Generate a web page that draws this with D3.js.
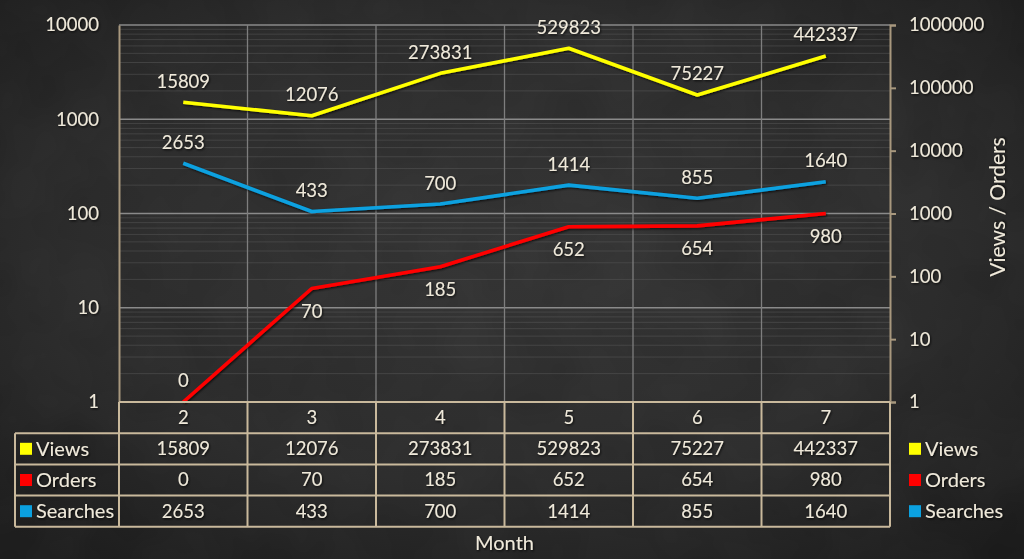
<!DOCTYPE html>
<html>
<head>
<meta charset="utf-8">
<script src="https://cdn.jsdelivr.net/npm/d3@7"></script>
<style>
  html, body { margin: 0; padding: 0; background: #262626; }
  svg { display: block; }
</style>
</head>
<body>
<script>
// table values (what the chart prints)
const months = ['2', '3', '4', '5', '6', '7'];
const views = [15809, 12076, 273831, 529823, 75227, 442337];
const orders = [0, 70, 185, 652, 654, 980];
const searches = [2653, 433, 700, 1414, 855, 1640];

// where the lines actually sit in the picture
const viewsLine = [58900, 36000, 170000, 427000, 77000, 321000];   // right axis
const ordersLine = [1, 64, 142, 617, 635, 1000];                    // right axis
const searchesLine = [341, 105, 126, 200, 145, 217];                // left axis

const leftTicks = [1, 10, 100, 1000, 10000];
const rightTicks = [1, 10, 100, 1000, 10000, 100000, 1000000];

const W = 1024, H = 559;
const plot = { left: 119, right: 890, top: 25, bottom: 402 };
const rowH = 31.2;
const font = 'Lato, "Open Sans", sans-serif';
const numSize = 18.5;   // digits
const wordSize = 20;    // words
const ink = '#efe9da';
const tan = '#c9b99c';

const series = [
  { name: 'Views', color: '#ffff00', table: views, line: viewsLine, axis: 'right' },
  { name: 'Orders', color: '#ff0000', table: orders, line: ordersLine, axis: 'right' },
  { name: 'Searches', color: '#0ba1e0', table: searches, line: searchesLine, axis: 'left' }
];

const svg = d3.select('body').append('svg')
  .attr('width', W)
  .attr('height', H)
  .attr('viewBox', `0 0 ${W} ${H}`);

const defs = svg.append('defs');
const bg = defs.append('radialGradient').attr('id', 'board')
  .attr('cx', '50%').attr('cy', '45%').attr('r', '70%');
bg.append('stop').attr('offset', '0%').attr('stop-color', '#323232');
bg.append('stop').attr('offset', '60%').attr('stop-color', '#2a2a2a');
bg.append('stop').attr('offset', '100%').attr('stop-color', '#1b1b1b');

const chalk = defs.append('filter').attr('id', 'chalk')
  .attr('x', 0).attr('y', 0).attr('width', '100%').attr('height', '100%');
chalk.append('feTurbulence').attr('type', 'fractalNoise')
  .attr('baseFrequency', 0.012).attr('numOctaves', 3).attr('seed', 7);
chalk.append('feColorMatrix').attr('type', 'matrix')
  .attr('values', '0 0 0 0 1  0 0 0 0 1  0 0 0 0 1  0.05 0 0 0 -0.01');

const shadow = defs.append('filter').attr('id', 'shadow')
  .attr('x', '-10%').attr('y', '-20%').attr('width', '130%').attr('height', '150%');
shadow.append('feDropShadow').attr('dx', 1).attr('dy', 1.2)
  .attr('stdDeviation', 0.9).attr('flood-color', '#000').attr('flood-opacity', 0.75);

svg.append('rect').attr('width', W).attr('height', H).attr('fill', 'url(#board)');
svg.append('rect').attr('width', W).attr('height', H).attr('filter', 'url(#chalk)');

// scales
const x = d3.scaleBand().domain(months).range([plot.left, plot.right]);
const yLeft = d3.scaleLog().domain([1, 10000]).range([plot.bottom, plot.top]);
const yRight = d3.scaleLog().domain([1, 1000000]).range([plot.bottom, plot.top]);
const cx = d => x(d) + x.bandwidth() / 2;

// gridlines: faint minor, brighter majors
const minor = [];
for (let dec = 1; dec < 10000; dec *= 10) {
  for (let k = 2; k <= 9; k++) minor.push(dec * k);
}
const grid = svg.append('g');
grid.selectAll('.minor').data(minor).enter().append('line')
  .attr('x1', plot.left).attr('x2', plot.right)
  .attr('y1', d => yLeft(d)).attr('y2', d => yLeft(d))
  .attr('stroke', '#5a5a5a').attr('stroke-opacity', 0.5).attr('stroke-width', 1);
grid.selectAll('.major').data(leftTicks.slice(1)).enter().append('line')
  .attr('x1', plot.left).attr('x2', plot.right)
  .attr('y1', d => yLeft(d)).attr('y2', d => yLeft(d))
  .attr('stroke', '#8a8a8a').attr('stroke-width', 1.3);
grid.selectAll('.vline').data(months.slice(1)).enter().append('line')
  .attr('x1', d => x(d)).attr('x2', d => x(d))
  .attr('y1', plot.top).attr('y2', plot.bottom)
  .attr('stroke', '#7e7e7e').attr('stroke-width', 1.3);

// axes
const leftAxis = svg.append('g')
  .attr('transform', `translate(${plot.left},0)`)
  .call(d3.axisLeft(yLeft).tickValues(leftTicks).tickFormat(d3.format('d'))
    .tickSize(0).tickPadding(20));
leftAxis.select('.domain').attr('stroke', '#a8987e').attr('stroke-width', 2);

const rightAxis = svg.append('g')
  .attr('transform', `translate(${plot.right},0)`)
  .call(d3.axisRight(yRight).tickValues(rightTicks).tickFormat(d3.format('d'))
    .tickSize(6).tickPadding(13));
rightAxis.select('.domain').attr('stroke', '#a8987e').attr('stroke-width', 2);
rightAxis.selectAll('.tick line').attr('stroke', '#a8987e').attr('stroke-width', 2);

svg.selectAll('.tick text')
  .attr('fill', ink)
  .attr('font-family', font)
  .attr('font-size', numSize)
  .attr('filter', 'url(#shadow)');

// lines
const lines = svg.append('g');
series.forEach(s => {
  const y = s.axis === 'left' ? yLeft : yRight;
  const gen = d3.line().x((d, i) => cx(months[i])).y(d => y(d));
  lines.append('path')
    .datum(s.line)
    .attr('d', gen)
    .attr('fill', 'none')
    .attr('stroke', s.color)
    .attr('stroke-width', 3.6)
    .attr('stroke-linejoin', 'round')
    .attr('filter', 'url(#shadow)');
});

// data labels
const labels = svg.append('g')
  .attr('font-family', font)
  .attr('font-size', numSize)
  .attr('fill', ink)
  .attr('text-anchor', 'middle')
  .attr('filter', 'url(#shadow)');
series.forEach(s => {
  const y = s.axis === 'left' ? yLeft : yRight;
  labels.selectAll(null).data(s.table).enter().append('text')
    .attr('x', (d, i) => cx(months[i]))
    .attr('y', (d, i) => {
      const py = y(s.line[i]);
      // Orders labels hang below the line, except where it sits on the floor
      if (s.name === 'Orders' && py < plot.bottom - 2) return py + 23;
      return py - 21;
    })
    .attr('dy', '0.35em')
    .text(d => d);
});

// data table
const table = svg.append('g')
  .attr('font-family', font)
  .attr('fill', ink);
const rowTop = i => plot.bottom + i * rowH;
const tableLeft = 15;

// header row with month numbers
table.selectAll('.month').data(months).enter().append('text')
  .attr('x', d => cx(d))
  .attr('y', rowTop(0) + rowH / 2)
  .attr('dy', '0.35em')
  .attr('text-anchor', 'middle')
  .attr('font-size', numSize)
  .attr('filter', 'url(#shadow)')
  .text(d => d);

series.forEach((s, r) => {
  const mid = rowTop(r + 1) + rowH / 2;
  table.selectAll(null).data(s.table).enter().append('text')
    .attr('x', (d, i) => cx(months[i]))
    .attr('y', mid)
    .attr('dy', '0.35em')
    .attr('text-anchor', 'middle')
    .attr('font-size', numSize)
    .attr('filter', 'url(#shadow)')
    .text(d => d);
  table.append('rect')
    .attr('x', 20).attr('y', mid - 6).attr('width', 12).attr('height', 12)
    .attr('fill', s.color);
  table.append('text')
    .attr('x', 36).attr('y', mid).attr('dy', '0.35em')
    .attr('font-size', wordSize)
    .attr('filter', 'url(#shadow)')
    .text(s.name);
});

// table borders
const border = table.append('g')
  .attr('stroke', tan).attr('stroke-width', 2).attr('fill', 'none');
const bottomY = rowTop(4);
[0, 1, 2, 3, 4].forEach(r => {
  border.append('line')
    .attr('x1', r === 0 ? plot.left : tableLeft).attr('x2', plot.right)
    .attr('y1', rowTop(r)).attr('y2', rowTop(r));
});
months.concat(['end']).forEach(m => {
  const xx = m === 'end' ? plot.right : x(m);
  border.append('line')
    .attr('x1', xx).attr('x2', xx)
    .attr('y1', rowTop(0)).attr('y2', bottomY);
});
border.append('line')
  .attr('x1', tableLeft).attr('x2', tableLeft)
  .attr('y1', rowTop(1)).attr('y2', bottomY);

// legend on the right
const legend = svg.append('g')
  .attr('font-family', font)
  .attr('font-size', wordSize)
  .attr('fill', ink);
series.forEach((s, r) => {
  const mid = rowTop(r + 1) + rowH / 2;
  legend.append('rect')
    .attr('x', 909).attr('y', mid - 6).attr('width', 12).attr('height', 12)
    .attr('fill', s.color);
  legend.append('text')
    .attr('x', 925).attr('y', mid).attr('dy', '0.35em')
    .attr('filter', 'url(#shadow)')
    .text(s.name);
});

// axis titles
svg.append('text')
  .attr('x', (plot.left + plot.right) / 2)
  .attr('y', 543)
  .attr('dy', '0.35em')
  .attr('text-anchor', 'middle')
  .attr('font-family', font)
  .attr('font-size', wordSize)
  .attr('fill', ink)
  .attr('filter', 'url(#shadow)')
  .text('Month');

svg.append('text')
  .attr('transform', 'translate(998,207) rotate(-90)')
  .attr('dy', '0.35em')
  .attr('text-anchor', 'middle')
  .attr('font-family', font)
  .attr('font-size', 21)
  .attr('fill', ink)
  .attr('filter', 'url(#shadow)')
  .text('Views / Orders');
</script>
</body>
</html>
